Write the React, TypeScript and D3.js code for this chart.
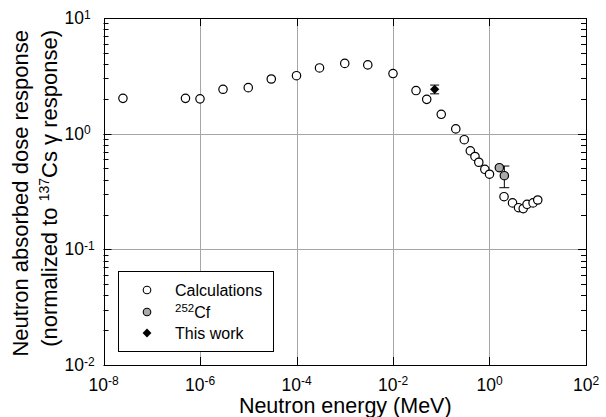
import React, { useEffect, useRef } from "react";
import * as d3 from "d3";

// Calculated response vs neutron energy (MeV)
const calcEnergy = [
  2.53e-8, 5e-7, 1e-6, 3e-6, 1e-5, 3e-5, 1e-4, 3e-4, 1e-3, 3e-3, 1e-2, 3e-2, 5e-2,
  0.1, 0.2, 0.3, 0.4, 0.5, 0.6, 0.8, 1, 2, 3, 4, 5, 6, 8, 10,
];
const calcResponse = [
  2.02, 2.02, 2.0, 2.42, 2.5, 2.97, 3.17, 3.7, 4.05, 3.93, 3.31, 2.36, 1.98,
  1.47, 1.1, 0.887, 0.711, 0.635, 0.566, 0.492, 0.446, 0.285, 0.252, 0.229, 0.225, 0.245, 0.252, 0.267,
];

// 252Cf measurements
const cfEnergy = [1.6, 2.03];
const cfResponse = [0.508, 0.433];
const cfError = [0, 0.092];

// This work
const workEnergy = [0.073];
const workResponse = [2.42];
const workError = [0.21];

const xTickExps = [-8, -6, -4, -2, 0, 2];
const yTickExps = [1, 0, -1, -2];
const legendLabels = ["Calculations", "252Cf", "This work"];

const FONT = "'Liberation Sans', Arial, sans-serif";

const App = () => {
  const chartRef = useRef<SVGSVGElement | null>(null);

  useEffect(() => {
    document.body.style.margin = "0";
    drawChart();
  }, []);

  const drawChart = () => {
    const svg = d3.select(chartRef.current);
    svg.selectAll("*").remove();

    const left = 103.5;
    const right = 586;
    const top = 18;
    const bottom = 365;

    const x = d3.scaleLog().domain([1e-8, 1e2]).range([left, right]);
    const y = d3.scaleLog().domain([1e-2, 1e1]).range([bottom, top]);

    // grid lines
    const grid = svg.append("g").attr("stroke", "#a6a6a6").attr("stroke-width", 1);
    [1e-6, 1e-4, 1e-2, 1e0].forEach((v) => {
      grid.append("line")
        .attr("x1", Math.round(x(v)) + 0.5).attr("x2", Math.round(x(v)) + 0.5)
        .attr("y1", top).attr("y2", bottom);
    });
    [1e0, 1e-1].forEach((v) => {
      grid.append("line")
        .attr("x1", left).attr("x2", right)
        .attr("y1", Math.round(y(v)) + 0.5).attr("y2", Math.round(y(v)) + 0.5);
    });

    // ticks (inward)
    const ticks = svg.append("g").attr("stroke", "#000").attr("stroke-width", 1);
    xTickExps.forEach((e) => {
      const px = Math.round(x(Math.pow(10, e))) + 0.5;
      ticks.append("line").attr("x1", px).attr("x2", px).attr("y1", bottom).attr("y2", bottom - 8);
      ticks.append("line").attr("x1", px).attr("x2", px).attr("y1", top).attr("y2", top + 8);
    });
    for (let e = -2; e < 1; e++) {
      for (let m = 1; m <= 9; m++) {
        const v = m * Math.pow(10, e);
        const py = Math.round(y(v)) + 0.5;
        const len = m === 1 ? 8 : 5;
        ticks.append("line").attr("x1", left).attr("x2", left + len).attr("y1", py).attr("y2", py);
        ticks.append("line").attr("x1", right).attr("x2", right - len).attr("y1", py).attr("y2", py);
      }
    }

    // frame
    svg.append("rect")
      .attr("x", Math.round(left) + 0.5)
      .attr("y", top + 0.5)
      .attr("width", Math.round(right) - Math.round(left))
      .attr("height", bottom - top)
      .attr("fill", "none")
      .attr("stroke", "#000")
      .attr("stroke-width", 1);

    // x tick labels
    xTickExps.forEach((e) => {
      const t = svg.append("text")
        .attr("x", x(Math.pow(10, e)))
        .attr("y", 391)
        .attr("text-anchor", "middle")
        .attr("font-family", FONT)
        .attr("font-size", 17.5)
        .attr("fill", "#000");
      t.append("tspan").text("10");
      t.append("tspan").attr("dy", -6).attr("font-size", 12).text(String(e));
    });

    // y tick labels
    yTickExps.forEach((e) => {
      const py = y(Math.pow(10, e));
      svg.append("text")
        .attr("x", 84).attr("y", py + 6)
        .attr("text-anchor", "end")
        .attr("font-family", FONT).attr("font-size", 17.5)
        .text("10");
      svg.append("text")
        .attr("x", 84).attr("y", py + 0.5)
        .attr("font-family", FONT).attr("font-size", 12)
        .text(String(e));
    });

    // axis titles
    svg.append("text")
      .attr("x", (left + right) / 2 + 0.5)
      .attr("y", 413)
      .attr("text-anchor", "middle")
      .attr("font-family", FONT)
      .attr("font-size", 21.5)
      .text("Neutron energy (MeV)");

    svg.append("text")
      .attr("transform", "translate(28,30) rotate(-90)")
      .attr("text-anchor", "end")
      .attr("font-family", FONT)
      .attr("font-size", 22)
      .text("Neutron absorbed dose response");

    const yt2 = svg.append("text")
      .attr("transform", "translate(57,30) rotate(-90)")
      .attr("text-anchor", "end")
      .attr("font-family", FONT)
      .attr("font-size", 22);
    yt2.append("tspan").text("(normalized to ");
    yt2.append("tspan").attr("dy", -8).attr("font-size", 14).text("137");
    yt2.append("tspan").attr("dy", 8).text("Cs ");
    yt2.append("tspan").text("γ");
    yt2.append("tspan").text(" response)");

    // calculations
    svg.append("g")
      .selectAll("circle")
      .data(calcEnergy.map((e, i) => [e, calcResponse[i]]))
      .enter()
      .append("circle")
      .attr("cx", (d) => x(d[0]))
      .attr("cy", (d) => y(d[1]))
      .attr("r", 4.2)
      .attr("fill", "#fff")
      .attr("stroke", "#000")
      .attr("stroke-width", 1.2);

    // 252Cf
    const cf = svg.append("g");
    cfEnergy.forEach((e, i) => {
      const err = cfError[i];
      if (err > 0) {
        const cx = x(e);
        const y1 = y(cfResponse[i] + err);
        const y2 = y(cfResponse[i] - err);
        cf.append("line").attr("x1", cx).attr("x2", cx).attr("y1", y1).attr("y2", y2).attr("stroke", "#000");
        cf.append("line").attr("x1", cx - 5).attr("x2", cx + 5).attr("y1", y1).attr("y2", y1).attr("stroke", "#000");
        cf.append("line").attr("x1", cx - 5).attr("x2", cx + 5).attr("y1", y2).attr("y2", y2).attr("stroke", "#000");
      }
    });
    cfEnergy.forEach((e, i) => {
      cf.append("circle")
        .attr("cx", x(e)).attr("cy", y(cfResponse[i])).attr("r", 4.2)
        .attr("fill", "#a9a9a9").attr("stroke", "#000").attr("stroke-width", 1.2);
    });

    // this work
    const diamond = d3.symbol().type(d3.symbolDiamond2).size(55);
    const wk = svg.append("g");
    workEnergy.forEach((e, i) => {
      const cx = x(e);
      const y1 = y(workResponse[i] + workError[i]);
      const y2 = y(workResponse[i] - workError[i]);
      wk.append("line").attr("x1", cx).attr("x2", cx).attr("y1", y1).attr("y2", y2).attr("stroke", "#000");
      wk.append("line").attr("x1", cx - 4.5).attr("x2", cx + 4.5).attr("y1", y1).attr("y2", y1).attr("stroke", "#000");
      wk.append("line").attr("x1", cx - 4.5).attr("x2", cx + 4.5).attr("y1", y2).attr("y2", y2).attr("stroke", "#000");
      wk.append("path")
        .attr("d", diamond()!)
        .attr("transform", `translate(${cx},${y(workResponse[i])})`)
        .attr("fill", "#000");
    });

    // legend
    const lg = svg.append("g");
    lg.append("rect")
      .attr("x", 118.5).attr("y", 271.5).attr("width", 155).attr("height", 80)
      .attr("fill", "#fff").attr("stroke", "#000").attr("stroke-width", 1);
    const rowY = [290, 312, 333];
    lg.append("circle").attr("cx", 147).attr("cy", rowY[0]).attr("r", 3.8)
      .attr("fill", "#fff").attr("stroke", "#000").attr("stroke-width", 1.1);
    lg.append("circle").attr("cx", 147).attr("cy", rowY[1]).attr("r", 3.8)
      .attr("fill", "#a9a9a9").attr("stroke", "#000").attr("stroke-width", 1.1);
    lg.append("path").attr("d", d3.symbol().type(d3.symbolDiamond2).size(50)()!)
      .attr("transform", `translate(147,${rowY[2]})`).attr("fill", "#000");

    legendLabels.forEach((label, i) => {
      const t = lg.append("text")
        .attr("x", 175).attr("y", rowY[i] + 5.8)
        .attr("font-family", FONT).attr("font-size", 16);
      if (label.startsWith("252")) {
        t.append("tspan").attr("dy", -6).attr("font-size", 11.5).text("252");
        t.append("tspan").attr("dy", 6).text(label.slice(3));
      } else {
        t.text(label);
      }
    });
  };

  return (
    <div style={{ width: 606, height: 417 }}>
      <svg ref={chartRef} width={606} height={417} style={{ display: "block", background: "#fff" }} />
    </div>
  );
};

export default App;
